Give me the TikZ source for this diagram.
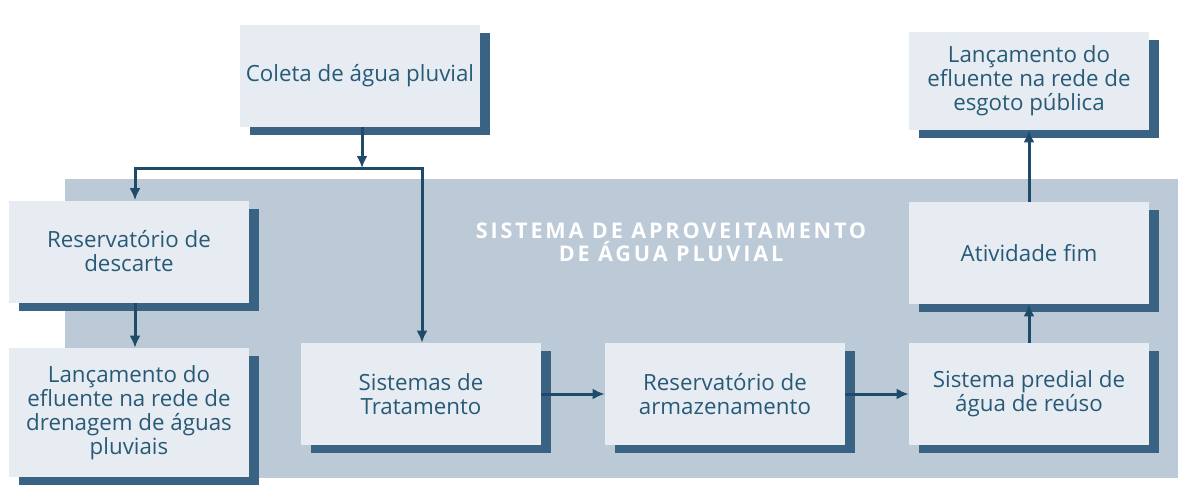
\documentclass[tikz,border=0pt]{standalone}
\usepackage{fontspec}
\setmainfont{Open Sans}
\newfontfamily\titulofonte[LetterSpace=13]{Open Sans}
\usetikzlibrary{calc,shadows,arrows.meta}

\definecolor{caixa}{HTML}{E6ECF2}
\definecolor{sombra}{HTML}{3A6283}
\definecolor{fundo}{HTML}{BCC9D6}
\definecolor{texto}{HTML}{285A78}
\definecolor{seta}{HTML}{1E4B69}

\begin{document}
\begin{tikzpicture}[
	etapa/.style={fill=caixa, text=texto, align=center, inner sep=0pt,
		font=\fontsize{12.7}{13.7}\selectfont, minimum width=48mm, minimum height=20.4mm,
		drop shadow={shadow xshift=2mm, shadow yshift=-1.6mm, fill=sombra, opacity=1}},
	fluxo/.style={draw=seta, line width=0.6mm, -{Latex[length=2.4mm, width=2.2mm]}},
	node distance=60.8mm,
	]

	\useasboundingbox (0,0) rectangle (236.6mm,-97.2mm);
	\fill[fundo] (13mm,-35.8mm) rectangle (235.6mm,-95.6mm);

	\node[text=white, align=center, font=\titulofonte\bfseries\fontsize{12.3}{13}\selectfont] (titulo) at (134.2mm,-48.4mm) {SISTEMA DE APROVEITAMENTO\\DE ÁGUA PLUVIAL};

	\node[etapa] (coleta) at (72mm,-15.2mm) {Coleta de água pluvial};
	\node[etapa] (descarte) at (25.8mm,-50.3mm) {Reservatório de\\descarte};
	\node[etapa, below of=descarte, node distance=32.2mm, minimum height=25.8mm] (drenagem) {Lançamento do\\efluente na rede de\\drenagem de águas\\pluviais};

	\node[etapa] (tratamento) at (84.2mm,-78.8mm) {Sistemas de\\Tratamento};
	\node[etapa, right of=tratamento] (armazenamento) {Reservatório de\\armazenamento};
	\node[etapa, right of=armazenamento] (predial) {Sistema predial de\\água de reúso};
	\node[etapa, above of=predial, node distance=28.2mm] (atividade) {Atividade fim};
	\node[etapa, above of=atividade, node distance=34.4mm, minimum height=19.6mm] (esgoto) {Lançamento do\\efluente na rede de\\esgoto pública};

	\node[coordinate] (juncao) at (72.4mm,-33.6mm) {};
	\node[coordinate, left of=juncao, node distance=45.4mm] (jesq) {};
	\node[coordinate, right of=juncao, node distance=12mm] (jdir) {};

	\draw[fluxo] (coleta.south -| juncao) -- (juncao);
	\draw[fluxo] (jdir) -- (jesq) -- (jesq |- descarte.north);
	\draw[fluxo] (jesq) -- (jdir) -- (jdir |- tratamento.north);
	\draw[fluxo] (descarte.south -| jesq) -- (drenagem.north -| jesq);
	\draw[fluxo] (tratamento) -- (armazenamento);
	\draw[fluxo] (armazenamento) -- (predial);
	\draw[fluxo] (predial) -- (atividade);
	\draw[fluxo] (atividade) -- (esgoto);

\end{tikzpicture}
\end{document}
